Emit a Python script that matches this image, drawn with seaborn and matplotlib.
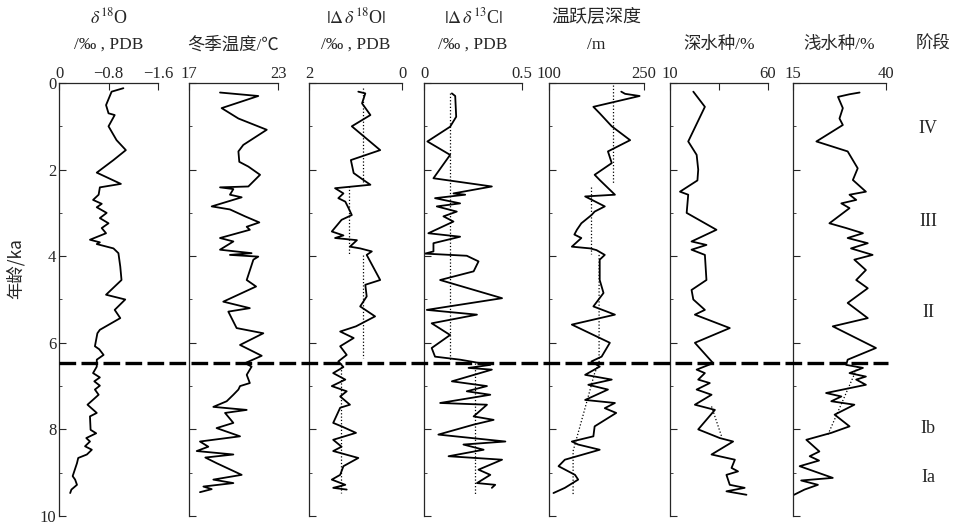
import numpy as np
import pandas as pd
import seaborn as sns
import matplotlib.pyplot as plt
import matplotlib.transforms as mtransforms
from matplotlib.lines import Line2D
from matplotlib.ticker import MultipleLocator

# ----------------------------
# Data: (age ka, value)
# ----------------------------
d18o = [(0.12, -1.04), (0.2, -0.85), (0.51, -0.76), (0.7, -0.80), (0.74, -0.90), (1.0, -0.80),
        (1.32, -0.93), (1.55, -1.08), (1.78, -0.88), (2.07, -0.61), (2.33, -1.0), (2.41, -0.66),
        (2.58, -0.64), (2.7, -0.55), (2.79, -0.69), (2.87, -0.61), (3.0, -0.77), (3.12, -0.66),
        (3.24, -0.80), (3.35, -0.69), (3.47, -0.76), (3.62, -0.50), (3.68, -0.66), (3.72, -0.61),
        (3.82, -0.88), (3.93, -0.96), (4.24, -0.99), (4.55, -1.01), (4.89, -0.76), (5.0, -1.07),
        (5.24, -0.90), (5.43, -0.99), (5.7, -0.66), (5.78, -0.62), (6.08, -0.58), (6.15, -0.65),
        (6.28, -0.72), (6.39, -0.61), (6.55, -0.61), (6.7, -0.55), (6.8, -0.66), (6.89, -0.57),
        (6.99, -0.66), (7.08, -0.58), (7.2, -0.64), (7.43, -0.46), (7.62, -0.61), (7.7, -0.50),
        (8.01, -0.51), (8.09, -0.60), (8.2, -0.44), (8.28, -0.50), (8.39, -0.42), (8.47, -0.53),
        (8.58, -0.45), (8.66, -0.31), (8.78, -0.29), (9.08, -0.22), (9.16, -0.26), (9.28, -0.29),
        (9.39, -0.20), (9.47, -0.18)]

winter_temp = [(0.22, 19.09), (0.3, 21.67), (0.58, 19.2), (0.82, 20.33), (1.08, 22.24), (1.43, 20.66),
               (1.58, 20.33), (1.82, 20.39), (1.93, 21.0), (2.12, 21.79), (2.39, 21.0), (2.41, 19.09),
               (2.45, 19.99), (2.58, 19.76), (2.64, 20.55), (2.85, 18.53), (2.92, 19.76), (3.08, 20.78),
               (3.22, 21.74), (3.32, 20.89), (3.39, 21.1), (3.58, 19.09), (3.66, 19.99), (3.85, 19.09),
               (3.93, 21.22), (3.97, 19.76), (4.01, 21.67), (4.08, 21.34), (4.55, 20.89), (4.7, 21.52),
               (5.05, 19.31), (5.2, 21.1), (5.28, 19.65), (5.66, 20.21), (5.78, 22.01), (6.05, 20.44),
               (6.3, 21.9), (6.47, 20.78), (6.55, 21.22), (6.74, 20.89), (6.93, 21.1), (7.0, 20.44),
               (7.08, 20.33), (7.2, 19.99), (7.35, 19.54), (7.48, 18.64), (7.55, 20.89), (7.62, 19.43),
               (7.85, 19.99), (7.97, 18.86), (8.16, 20.44), (8.28, 17.74), (8.4, 18.3), (8.5, 17.52),
               (8.58, 19.99), (8.65, 18.1), (8.78, 18.86), (9.05, 20.55), (9.16, 18.64), (9.24, 19.99),
               (9.32, 17.97), (9.38, 18.53), (9.45, 17.74)]

dd18o = [(0.2, 0.94), (0.24, 0.79), (0.47, 0.86), (0.74, 0.68), (1.0, 1.08), (1.55, 0.47), (1.78, 1.10),
         (2.08, 1.04), (2.24, 0.83), (2.35, 0.68), (2.43, 1.44), (2.55, 1.26), (2.66, 1.37), (2.74, 1.22),
         (2.89, 1.15), (3.05, 1.08), (3.16, 1.30), (3.43, 1.51), (3.52, 1.26), (3.58, 1.44), (3.63, 0.97),
         (3.78, 1.12), (3.82, 0.90), (3.89, 0.65), (3.97, 0.76), (4.55, 0.47), (4.66, 0.79), (4.93, 0.76),
         (5.16, 0.90), (5.39, 0.58), (5.62, 0.99), (5.74, 1.33), (5.89, 1.04), (6.08, 1.33), (6.28, 1.19),
         (6.43, 1.37), (6.56, 1.26), (6.7, 1.48), (6.85, 1.22), (7.0, 1.51), (7.12, 1.19), (7.24, 1.33),
         (7.43, 1.12), (7.5, 1.33), (7.85, 1.48), (7.93, 1.30), (8.08, 0.99), (8.24, 1.48), (8.4, 1.30),
         (8.5, 1.48), (8.66, 0.94), (8.85, 1.26), (9.05, 1.33), (9.16, 1.51), (9.28, 1.22), (9.35, 1.48),
         (9.39, 1.19)]

dd13c = [(0.24, 0.142), (0.3, 0.159), (0.78, 0.164), (1.01, 0.133), (1.35, 0.017), (1.66, 0.133),
         (2.2, 0.048), (2.39, 0.346), (2.55, 0.150), (2.58, 0.210), (2.66, 0.056), (2.78, 0.184),
         (2.85, 0.065), (2.97, 0.167), (3.08, 0.099), (3.2, 0.150), (3.47, 0.022), (3.55, 0.184),
         (3.7, 0.048), (3.89, 0.048), (3.94, 0.005), (3.99, 0.218), (4.12, 0.278), (4.35, 0.253),
         (4.55, 0.082), (4.97, 0.398), (5.24, 0.014), (5.35, 0.270), (5.55, 0.039), (5.82, 0.133),
         (6.12, 0.039), (6.32, 0.056), (6.39, 0.184), (6.51, 0.338), (6.58, 0.227), (6.62, 0.346),
         (6.89, 0.142), (7.0, 0.321), (7.12, 0.218), (7.2, 0.338), (7.39, 0.082), (7.43, 0.321),
         (7.7, 0.253), (7.78, 0.355), (7.89, 0.253), (8.12, 0.073), (8.28, 0.415), (8.35, 0.201),
         (8.47, 0.304), (8.62, 0.125), (8.7, 0.398), (8.93, 0.278), (9.05, 0.338), (9.24, 0.270),
         (9.28, 0.363), (9.35, 0.346)]

thermocline = [(0.2, 214), (0.25, 220), (0.3, 243), (0.55, 170), (0.7, 180), (1.0, 199), (1.32, 228),
               (1.58, 193), (1.85, 199), (2.12, 172), (2.24, 180), (2.58, 204), (2.62, 157), (2.85, 188),
               (2.97, 172), (3.05, 167), (3.24, 151), (3.39, 144), (3.5, 140), (3.58, 151), (3.78, 136),
               (3.82, 165), (3.86, 175), (3.97, 188), (4.08, 180), (4.55, 180), (4.85, 186), (5.16, 170),
               (5.35, 204), (5.58, 136), (6.0, 196), (6.32, 183), (6.43, 167), (6.55, 180), (6.74, 157),
               (6.85, 199), (6.97, 162), (7.08, 193), (7.32, 157), (7.39, 204), (7.51, 188), (7.62, 206),
               (7.93, 172), (8.16, 170), (8.28, 136), (8.35, 146), (8.47, 180), (8.7, 125), (8.85, 115),
               (9.05, 141), (9.16, 146), (9.35, 125), (9.47, 107)]

deep_species = [(0.2, 21.9), (0.55, 27.8), (1.35, 19.3), (1.66, 23.6), (2.0, 24.4), (2.25, 24.0),
                (2.51, 15.1), (2.58, 19.3), (3.0, 18.5), (3.39, 33.7), (3.66, 21.0), (3.74, 28.6),
                (3.85, 21.0), (3.97, 27.8), (4.55, 28.6), (4.78, 21.0), (5.0, 21.9), (5.24, 27.8),
                (5.35, 22.7), (5.66, 40.5), (6.0, 22.7), (6.47, 32.0), (6.62, 23.6), (6.7, 27.8),
                (6.85, 24.4), (6.93, 30.3), (7.08, 23.6), (7.2, 31.2), (7.43, 22.7), (7.55, 32.9),
                (8.0, 24.4), (8.2, 35.4), (8.28, 42.2), (8.58, 31.2), (8.7, 43.1), (8.89, 41.4),
                (8.97, 44.7), (9.05, 38.8), (9.28, 40.5), (9.35, 48.1), (9.43, 38.8), (9.51, 49.0)]

shallow_species = [(0.22, 32.9), (0.26, 30.2), (0.32, 27.1), (0.58, 28.4), (0.82, 27.5), (0.97, 28.4),
                   (1.35, 21.3), (1.58, 29.7), (1.97, 32.4), (2.24, 31.1), (2.51, 34.6), (2.58, 30.2),
                   (2.7, 32.0), (2.78, 28.0), (2.89, 30.2), (3.24, 24.8), (3.35, 29.3), (3.47, 33.8),
                   (3.58, 29.7), (3.7, 35.1), (3.82, 30.6), (3.97, 36.4), (4.08, 31.5), (4.32, 34.6),
                   (4.55, 32.0), (4.74, 35.1), (5.08, 29.7), (5.43, 35.1), (5.62, 25.7), (6.12, 37.3),
                   (6.39, 29.7), (6.51, 29.3), (6.58, 33.8), (6.7, 30.2), (6.78, 34.6), (6.85, 32.0),
                   (6.97, 34.6), (7.16, 23.9), (7.24, 28.0), (7.35, 25.3), (7.43, 31.5), (7.66, 26.2),
                   (7.93, 30.2), (8.08, 25.3), (8.24, 18.6), (8.51, 22.1), (8.62, 19.5), (8.72, 22.0),
                   (8.85, 16.8), (9.12, 25.7), (9.18, 17.2), (9.28, 21.7), (9.39, 18.1), (9.51, 15.3)]

# dotted mean / trend lines, one list per segment
dd18o_means = [[(0.12, 0.83), (2.3, 0.83)], [(2.38, 1.14), (3.97, 1.14)],
               [(3.97, 0.83), (6.35, 0.83)], [(6.47, 1.32), (9.47, 1.32)]]
dd13c_means = [[(0.24, 0.133), (6.4, 0.133)], [(6.47, 0.261), (9.5, 0.261)]]
thermo_means = [[(0.05, 201), (2.3, 201)], [(2.4, 167), (3.95, 167)],
                [(3.97, 179), (6.47, 179), (6.7, 172), (7.5, 157), (8.5, 138), (9.5, 138)]]
deep_trend = [[(7.47, 31.2), (8.16, 36.3)]]
shallow_trend = [[(6.55, 32.4), (8.12, 24.4)]]

boundary_age = 6.47
stage_names = ["IV", "III", "II", "Ib", "Ia"]
stage_ages = [1.04, 3.2, 5.3, 7.97, 9.12]

panels = [
    dict(data=d18o, xlim=(0, -1.6), ticks=[0, -0.8, -1.6], labels=["0", "\u22120.8", "\u22121.6"],
         t1=r"$\delta^{18}$O", t2="/‰ , PDB", means=[]),
    dict(data=winter_temp, xlim=(17, 23), ticks=[17, 23], labels=["17", "23"],
         t1="", t2="冬季温度/℃", means=[]),
    dict(data=dd18o, xlim=(2, 0), ticks=[2, 0], labels=["2", "0"],
         t1=r"$|\Delta\,\delta^{18}$O$|$", t2="/‰ , PDB", means=dd18o_means),
    dict(data=dd13c, xlim=(0, 0.5), ticks=[0, 0.5], labels=["0", "0.5"],
         t1=r"$|\Delta\,\delta^{13}$C$|$", t2="/‰ , PDB", means=dd13c_means),
    dict(data=thermocline, xlim=(100, 250), ticks=[100, 250], labels=["100", "250"],
         t1="温跃层深度", t2="/m", means=thermo_means),
    dict(data=deep_species, xlim=(10, 60), ticks=[10, 35, 60], labels=["10", "", "60"],
         t1="", t2="深水种/%", means=deep_trend),
    dict(data=shallow_species, xlim=(15, 40), ticks=[15, 40], labels=["15", "40"],
         t1="", t2="浅水种/%", means=shallow_trend),
]

# panel boxes in figure fraction (left, width)
boxes = [(0.0617, 0.1034), (0.1975, 0.0930), (0.3229, 0.0972), (0.4431, 0.1024),
         (0.5737, 0.0993), (0.7001, 0.1024), (0.8286, 0.0972)]
bottom, height = 0.0209, 0.8216

# ----------------------------
# Plot
# ----------------------------
sns.set_style("ticks")
fam = ["Liberation Serif", "Noto Sans CJK SC", "DejaVu Sans"]
plt.rcParams["font.family"] = fam
plt.rcParams["mathtext.fontset"] = "stix"
plt.rcParams["axes.unicode_minus"] = True

fig = plt.figure(figsize=(9.57, 5.27), dpi=100)
axes = []
for i, (p, (left, width)) in enumerate(zip(panels, boxes)):
    ax = fig.add_axes([left, bottom, width, height])
    axes.append(ax)
    df = pd.DataFrame(p["data"], columns=["age", "value"])
    sns.lineplot(data=df, x="value", y="age", orient="y", estimator=None, sort=True,
                 color="black", lw=1.3, ax=ax)
    for seg in p["means"]:
        sdf = pd.DataFrame(seg, columns=["age", "value"])
        sns.lineplot(data=sdf, x="value", y="age", orient="y", estimator=None, sort=True,
                     color="black", lw=0.9, linestyle=":", ax=ax)
    ax.set_xlim(*p["xlim"])
    ax.set_ylim(10, 0)
    ax.set_xlabel("")
    ax.set_ylabel("")
    ax.xaxis.tick_top()
    ax.set_xticks(p["ticks"])
    ax.set_xticklabels(p["labels"])
    ax.yaxis.set_major_locator(MultipleLocator(2))
    ax.yaxis.set_minor_locator(MultipleLocator(1))
    ax.tick_params(axis="x", direction="in", length=5, pad=1, labelsize=12, width=0.8)
    ax.tick_params(axis="y", which="major", direction="in", length=5, width=0.8,
                   labelsize=12, pad=2, labelleft=(i == 0))
    ax.tick_params(axis="y", which="minor", direction="in", length=2, width=0.6)
    for side in ["right", "bottom"]:
        ax.spines[side].set_visible(False)
    for side in ["left", "top"]:
        ax.spines[side].set_linewidth(0.9)
    ax.patch.set_alpha(0)
    if p["t1"]:
        ax.text(0.5, 1.152, p["t1"], transform=ax.transAxes, ha="center", va="center",
                fontsize=13, family=fam)
    ax.text(0.5, 1.0876, p["t2"], transform=ax.transAxes, ha="center", va="center",
            fontsize=12.5, family=fam)

# stage boundary across all panels
trans = mtransforms.blended_transform_factory(fig.transFigure, axes[0].transData)
fig.add_artist(Line2D([0.062, 0.928], [boundary_age, boundary_age], transform=trans,
                      color="black", lw=2.4, linestyle=(0, (5, 1.6))))

# stage labels
trans7 = mtransforms.blended_transform_factory(fig.transFigure, axes[-1].transData)
for name, age in zip(stage_names, stage_ages):
    fig.text(0.970, age, name, transform=trans7, ha="center", va="center", fontsize=13,
             family=fam)
fig.text(0.975, 0.915, "阶段", ha="center", va="center", fontsize=12.5, family=fam)

fig.text(0.016, 0.49, "年龄/ka", rotation=90, ha="center", va="center", fontsize=12.5,
         family=["Noto Sans CJK SC", "DejaVu Sans"])

plt.savefig("out.png", dpi=100)
plt.close()
